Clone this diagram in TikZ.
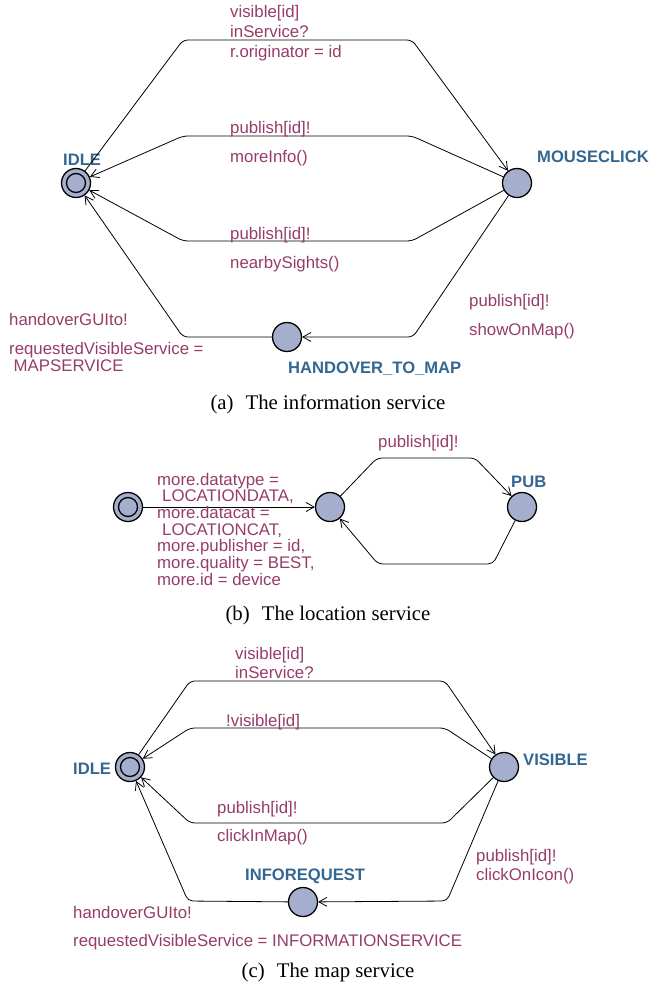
\documentclass[tikz,border=0pt]{standalone}
\usepackage{fontspec}
\setmainfont{Liberation Serif}
\newfontfamily\labfont{Liberation Sans}
\usetikzlibrary{arrows.meta}
\definecolor{lblcol}{RGB}{150,60,105}
\definecolor{namecol}{RGB}{51,102,145}
\definecolor{locfill}{RGB}{165,174,204}
\tikzset{
 locnode/.style={circle,draw=black,line width=1.3pt,fill=locfill,minimum size=29pt,inner sep=0pt},
 innerring/.style={draw=black,line width=1.3pt},
 conn/.style={draw=black,line width=0.8pt,rounded corners=5pt,-{Straight Barb[length=8pt,width=9pt]}},
 labtext/.style={anchor=base west,inner sep=0pt,text=lblcol,font=\labfont\fontsize{16.8}{19}\selectfont},
 lname/.style={anchor=base west,inner sep=0pt,text=namecol,font=\labfont\bfseries\fontsize{16.6}{19}\selectfont},
 captext/.style={anchor=base,inner sep=0pt,font=\fontsize{20.8}{24}\selectfont},
}
\begin{document}
\begin{tikzpicture}[x=1pt,y=-1pt]
\useasboundingbox (0,0) rectangle (650,990);

% ---------------- (a) information service
\node[locnode] (a0) at (76,183) {};
\draw[innerring] (a0.center) circle[radius=9.5];
\node[locnode] (a1) at (517,183) {};
\node[locnode] (a2) at (287,337) {};
\node[lname] (na0) at (63,165) {IDLE};
\node[lname] (na1) at (537,162) {MOUSECLICK};
\node[lname] (na2) at (288,373) {HANDOVER\_TO\_MAP};

\draw[conn] (a0) -- (183,40) -- (412,40) -- (a1);
\draw[conn] (a1) -- (412,136) -- (183,136) -- (a0);
\draw[conn] (a1) -- (412,241) -- (183,241) -- (a0);
\draw[conn] (a1) -- (413,337) -- (a2);
\draw[conn] (a2) -- (183,337) -- (a0);

\node[labtext] (la1) at (230,18) {visible[id]};
\node[labtext] (la2) at (230,37.5) {inService?};
\node[labtext] (la3) at (230,57) {r.originator = id};
\node[labtext] (la4) at (230,133) {publish[id]!};
\node[labtext] (la5) at (230,162) {moreInfo()};
\node[labtext] (la6) at (230,239) {publish[id]!};
\node[labtext] (la7) at (230,268) {nearbySights()};
\node[labtext] (la8) at (469,306.5) {publish[id]!};
\node[labtext] (la9) at (469,335.5) {showOnMap()};
\node[labtext] (la10) at (9,325) {handoverGUIto!};
\node[labtext] (la11) at (9,354) {requestedVisibleService =};
\node[labtext] (la12) at (13.5,371) {MAPSERVICE};

\node[captext] (capa) at (328,409) {(a)\hspace{12pt}The information service};

% ---------------- (b) location service
\node[locnode] (b0) at (128,507) {};
\draw[innerring] (b0.center) circle[radius=9.5];
\node[locnode] (b1) at (330,507) {};
\node[locnode] (b2) at (522,507) {};
\node[lname] (nb2) at (511,487) {PUB};

\draw[conn] (b0) -- (b1);
\draw[conn] (b1) -- (377,458) -- (475,458) -- (b2);
\draw[conn] (b2) -- (493,564) -- (378,564) -- (b1);

\node[labtext] (lb0) at (378,447) {publish[id]!};
\node[labtext] (lb1) at (157,485) {more.datatype =};
\node[labtext] (lb2) at (162,501.7) {LOCATIONDATA,};
\node[labtext] (lb3) at (157,518.3) {more.datacat =};
\node[labtext] (lb4) at (162,535) {LOCATIONCAT,};
\node[labtext] (lb5) at (157,551.7) {more.publisher = id,};
\node[labtext] (lb6) at (157,568.3) {more.quality = BEST,};
\node[labtext] (lb7) at (157,585) {more.id = device};

\node[captext] (capb) at (328,620) {(b)\hspace{12pt}The location service};

% ---------------- (c) map service
\node[locnode] (c0) at (130,767) {};
\draw[innerring] (c0.center) circle[radius=9.5];
\node[locnode] (c1) at (504,767) {};
\node[locnode] (c2) at (303,902) {};
\node[lname] (nc0) at (73,774) {IDLE};
\node[lname] (nc1) at (523,765) {VISIBLE};
\node[lname] (nc2) at (245,880) {INFOREQUEST};

\draw[conn] (c0) -- (190,681) -- (445,681) -- (c1);
\draw[conn] (c1) -- (445,728) -- (190,728) -- (c0);
\draw[conn] (c1) -- (447,823) -- (190,823) -- (c0);
\draw[conn] (c1) -- (447,901) -- (c2);
\draw[conn] (c2) -- (188,901) -- (c0);

\node[labtext] (lc1) at (235,659) {visible[id]};
\node[labtext] (lc2) at (235,678) {inService?};
\node[labtext] (lc3) at (226,726.5) {!visible[id]};
\node[labtext] (lc4) at (217,813) {publish[id]!};
\node[labtext] (lc5) at (217,841.5) {clickInMap()};
\node[labtext] (lc6) at (476,861.5) {publish[id]!};
\node[labtext] (lc7) at (476,880) {clickOnIcon()};
\node[labtext] (lc8) at (73,918) {handoverGUIto!};
\node[labtext] (lc9) at (73,946.5) {requestedVisibleService = INFORMATIONSERVICE};

\node[captext] (capc) at (328,977) {(c)\hspace{12pt}The map service};
\end{tikzpicture}
\end{document}
